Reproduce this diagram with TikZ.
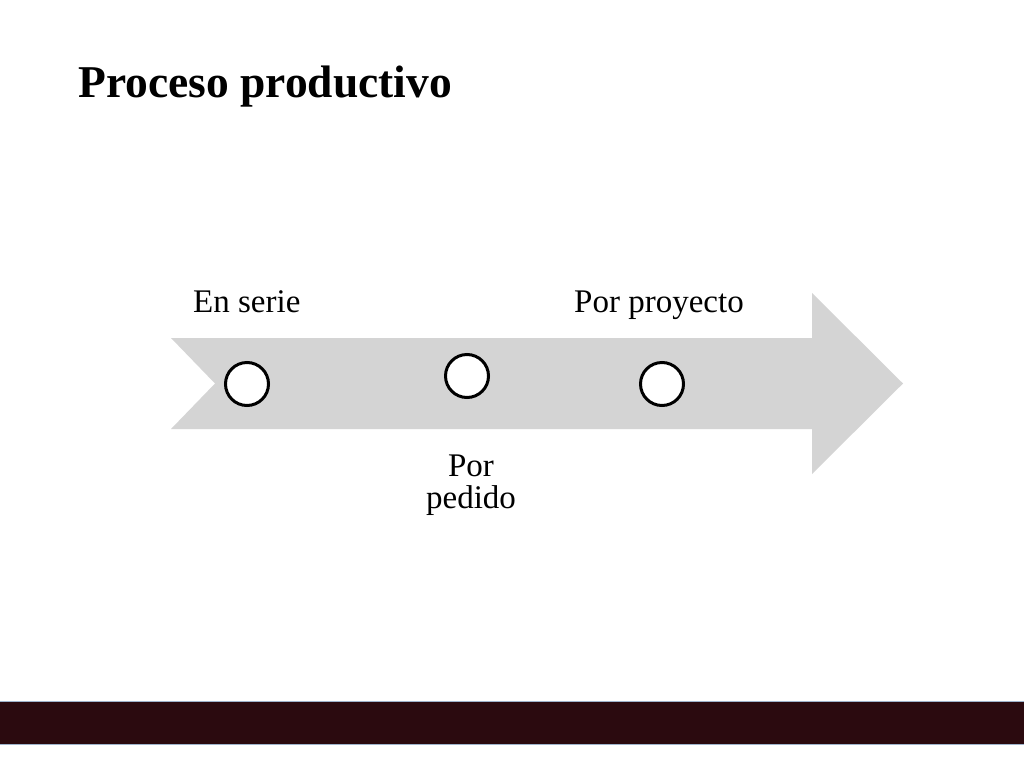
\documentclass[tikz,border=0pt]{standalone}
\usepackage{fontspec}
\setmainfont{Liberation Serif}
\definecolor{bandgray}{HTML}{D4D4D4}
\definecolor{barcol}{HTML}{2B0A0F}
\definecolor{baredge}{HTML}{9FB4CC}
\begin{document}
\begin{tikzpicture}[x=1pt,y=-1pt,
  dot/.style={circle,draw=black,fill=white,line width=3pt,minimum size=43pt,inner sep=0pt},
  lbl/.style={inner sep=0pt,font=\fontsize{33}{32}\selectfont},
  ttl/.style={inner sep=0pt,font=\fontsize{45.5}{50}\selectfont\bfseries}]
\useasboundingbox[fill=white] (0,0) rectangle (1024,768);
\node[ttl,anchor=base west] (title) at (78,97) {Proceso productivo};
\fill[bandgray] (171,338) -- (812,338) -- (812,293) -- (903,383.5) -- (812,474) -- (812,429) -- (171,429) -- (215,383.5) -- cycle;
\node[dot] (c1) at (247,384) {};
\node[dot] (c2) at (467,376) {};
\node[dot] (c3) at (662,384) {};
\node[lbl,anchor=base west] (l1) at (193,312) {En serie};
\node[lbl,anchor=base west] (l3) at (574,312) {Por proyecto};
\node[lbl,align=center,anchor=base] (l2) at (471,508) {Por\\pedido};
\filldraw[fill=barcol,draw=baredge,line width=1pt] (-1,701) rectangle (1025,744);
\end{tikzpicture}
\end{document}
